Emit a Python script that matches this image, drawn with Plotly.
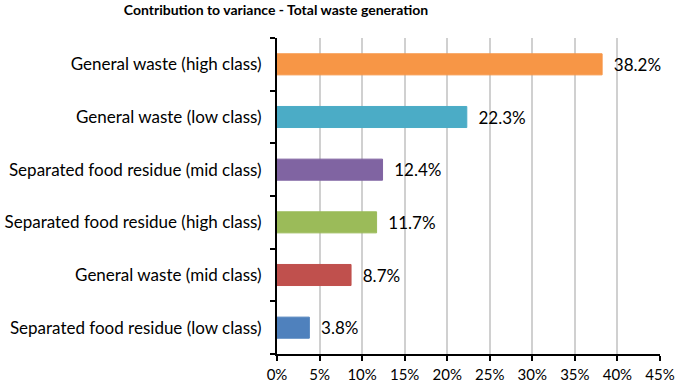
import plotly.graph_objects as go

categories = [
    "Separated food residue (low class)",
    "General waste (mid class)",
    "Separated food residue (high class)",
    "Separated food residue (mid class)",
    "General waste (low class)",
    "General waste (high class)",
]
values = [3.8, 8.7, 11.7, 12.4, 22.3, 38.2]
colors = ["#4F81BD", "#C0504D", "#9BBB59", "#8064A2", "#4BACC6", "#F79646"]
x_ticks = [0, 5, 10, 15, 20, 25, 30, 35, 40, 45]
x_tick_text = [f"{t}%" for t in x_ticks]

font_family = "Lato, Carlito, 'Open Sans', sans-serif"

fig = go.Figure(go.Bar(
    y=categories,
    x=values,
    orientation="h",
    marker=dict(color=colors, line=dict(color=colors, width=1)),
    width=0.4,
    texttemplate="  %{x:.1f}%",
    textposition="outside",
    textfont=dict(size=17, color="black", family=font_family),
    cliponaxis=False,
))

fig.update_layout(
    width=676, height=385,
    margin=dict(l=277, r=16, t=38, b=31),
    paper_bgcolor="white", plot_bgcolor="white",
    title=dict(text="<b>Contribution to variance - Total waste generation</b>",
               x=276/676, xanchor="center", xref="container",
               y=1-10/385, yanchor="middle", yref="container",
               font=dict(size=14, color="black", family=font_family)),
    showlegend=False,
    font=dict(family=font_family, size=17, color="black"),
)
fig.update_xaxes(
    range=[0, 45], tickvals=x_ticks, ticktext=x_tick_text,
    showgrid=True, gridcolor="#D0D0D0", gridwidth=1.5,
    showline=True, linecolor="black", linewidth=2,
    ticks="outside", ticklen=5, tickwidth=2, tickcolor="black",
    zeroline=False, tickfont=dict(size=15), ticklabelstandoff=1,
    automargin=False,
)
fig.update_yaxes(
    showline=True, linecolor="black", linewidth=2,
    ticks="outside", ticklen=5, tickwidth=2, tickcolor="black",
    tickson="boundaries", ticklabelstandoff=10,
    tickfont=dict(size=17), showgrid=False, automargin=False,
)

fig.write_html("out.html",
               config={"displayModeBar": False},
               post_script="document.body.style.margin='0';document.body.style.overflow='hidden';")
